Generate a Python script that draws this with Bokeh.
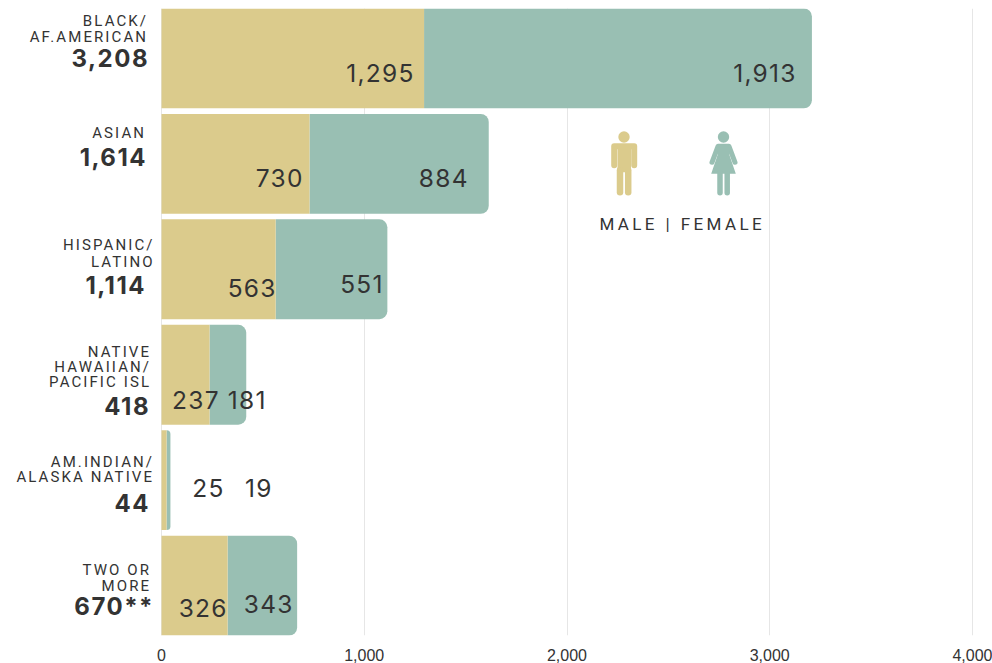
from bokeh.core.properties import value
from bokeh.embed import file_html
from bokeh.events import DocumentReady
from bokeh.io import curdoc
from bokeh.models import ColumnDataSource, CustomJS, FixedTicker, NumeralTickFormatter, Range1d
from bokeh.plotting import figure
from bokeh.resources import INLINE

# ---- data -------------------------------------------------------------
category_lines = [
    ["BLACK/", "AF.AMERICAN"],
    ["ASIAN"],
    ["HISPANIC/", "LATINO"],
    ["NATIVE", "HAWAIIAN/", "PACIFIC ISL"],
    ["AM.INDIAN/", "ALASKA NATIVE"],
    ["TWO OR", "MORE"],
]
total_labels = ["3,208", "1,614", "1,114", "418", "44", "670**"]
male = [1295, 730, 563, 237, 25, 326]
female = [1913, 884, 551, 181, 19, 343]
x_ticks = [0, 1000, 2000, 3000, 4000]
legend_label = "MALE | FEMALE"

MALE_COLOR = "#dbcb8c"
FEMALE_COLOR = "#99bfb3"
TEXT_COLOR = "#333333"
LABEL_FONT = "Roboto"
NUMBER_FONT = "Inter"

# ---- page-pixel layout --------------------------------------------------
PX_PER_UNIT = 811 / 4000
ROW_STEP = 105.6
BAR_HEIGHT = 100 / ROW_STEP
SPACING = {"15px": 2.1, "24px": 1.5, "24.5px": 1.3, "17px": 3.4}


def X(px):
    return (px - 161) / PX_PER_UNIT


def Y(py):
    return (py - 58) / ROW_STEP


p = figure(
    width=992, height=663, output_backend="svg", toolbar_location=None,
    x_range=Range1d(X(0), X(992)), y_range=Range1d(Y(636), Y(8)),
    min_border_left=0, min_border_right=0, min_border_top=8, min_border_bottom=27,
)
p.outline_line_color = None
p.ygrid.visible = False
p.yaxis.visible = False
p.xgrid.ticker = FixedTicker(ticks=x_ticks)
p.xgrid.grid_line_color = "#e6e6e6"
p.xaxis.ticker = FixedTicker(ticks=x_ticks)
p.xaxis.formatter = NumeralTickFormatter(format="0,0")
p.xaxis.axis_line_color = None
p.xaxis.major_tick_line_color = None
p.xaxis.minor_tick_line_color = None
p.xaxis.major_label_text_font = "Liberation Sans"
p.xaxis.major_label_text_font_size = "16px"
p.xaxis.major_label_text_color = TEXT_COLOR
p.xaxis.major_label_standoff = 7

rows = list(range(len(male)))
stack = [m + f for m, f in zip(male, female)]
src = ColumnDataSource(dict(y=rows, zero=[0] * len(rows), male=male, stack=stack))
p.hbar(y="y", left="male", right="stack", height=BAR_HEIGHT, source=src,
       fill_color=FEMALE_COLOR, line_color=None, border_radius=(0, 8, 8, 0))
p.hbar(y="y", left="zero", right="male", height=BAR_HEIGHT, source=src,
       fill_color=MALE_COLOR, line_color=None)


def texts(items, size, style="normal", font=LABEL_FONT):
    """items: (string, page x, page baseline y, align). Bokeh places text by its untracked
    width, so the anchor moves left by the tracking that is added afterwards."""
    s = SPACING[size]
    px = float(size[:-2])
    share = {"right": 1.0, "center": 0.5}[items[0][3]]
    p.text(x=[X(i[1] - (len(i[0]) - 1) * s * share) for i in items],
           y=[Y(i[2] - 0.4 * px) for i in items],
           text=[i[0] for i in items],
           text_align=items[0][3], text_baseline="alphabetic", text_color=TEXT_COLOR,
           text_font=value(font), text_font_size=size, text_font_style=style)


cat_pos = [[(145.5, 27), (145.5, 43)], [(143.5, 139)], [(152, 251), (152, 268)],
           [(148.5, 358), (148.5, 373), (148.5, 388)], [(151.5, 468), (151.5, 483)], [(148.5, 576), (148.5, 592)]]
items = []
for lines, poss in zip(category_lines, cat_pos):
    for s, (x, y) in zip(lines, poss):
        items.append((s, x, y, "right"))
texts(items, "15px")

tot_pos = [(147, 67), (145, 166), (144, 295), (148, 416), (148, 513), (152, 617)]
texts([(s, x, y, "right") for s, (x, y) in zip(total_labels, tot_pos)], "24px", "bold", NUMBER_FONT)

male_pos = [(413, 82), (302, 188), (275, 298), (218, 410), (223, 498), (226, 618)]
female_pos = [(795, 82), (467, 188), (382, 294), (265, 410), (271, 498), (292, 614)]
texts([(f"{v:,}", x, y, "right") for v, (x, y) in zip(male, male_pos)], "24.5px", font=NUMBER_FONT)
texts([(f"{v:,}", x, y, "right") for v, (x, y) in zip(female, female_pos)], "24.5px", font=NUMBER_FONT)


# ---- pictograms ---------------------------------------------------------
def seg(pts, color, w):
    p.line([X(a) for a, _ in pts], [Y(b) for _, b in pts], line_color=color,
           line_width=w, line_cap="round", line_join="round")


def poly(pts, color):
    p.patch([X(a) for a, _ in pts], [Y(b) for _, b in pts], fill_color=color, line_color=None)


def head(cx, color):
    p.scatter([X(cx)], [Y(136.7)], size=11.4, marker="circle", fill_color=color, line_color=None)


head(623.5, MALE_COLOR)
seg([(613.7, 165), (613.7, 146), (633.7, 146), (633.7, 165)], MALE_COLOR, 6)
poly([(617, 144), (630.5, 144), (630.5, 172), (617, 172)], MALE_COLOR)
seg([(619.5, 170), (619.5, 192)], MALE_COLOR, 6.5)
seg([(627.7, 170), (627.7, 192)], MALE_COLOR, 6.5)

head(723, FEMALE_COLOR)
seg([(711.5, 162), (717.5, 146), (728.5, 146), (734.5, 162)], FEMALE_COLOR, 5)
poly([(718, 144), (728, 144), (729, 155), (735.3, 173.5), (710.7, 173.5), (717, 155)], FEMALE_COLOR)
seg([(719.5, 173), (719.5, 192.5)], FEMALE_COLOR, 5.5)
seg([(726.7, 173), (726.7, 192.5)], FEMALE_COLOR, 5.5)

texts([(legend_label, 680, 231, "center")], "17px")

# Letter spacing: the source chart's texts are tracked out; SVG text takes it as a style.
track = CustomJS(args=dict(spacing=SPACING), code="""
function walk(root) {
  root.querySelectorAll('*').forEach((el) => {
    if (el.shadowRoot) walk(el.shadowRoot);
    if (el.tagName.toLowerCase() === 'text') {
      const m = (el.getAttribute('font-size') || el.style.fontSize || '');
      const fam = (el.getAttribute('font-family') || el.style.fontFamily || '');
      if (!fam.includes('Liberation') && spacing[m]) el.style.letterSpacing = spacing[m] + 'px';
    }
  });
}
[0, 50, 200, 500, 1000].forEach((t) => setTimeout(() => walk(document), t));
""")
curdoc().add_root(p)
curdoc().js_on_event(DocumentReady, track)

open("out.html", "w").write(file_html(p, INLINE))
